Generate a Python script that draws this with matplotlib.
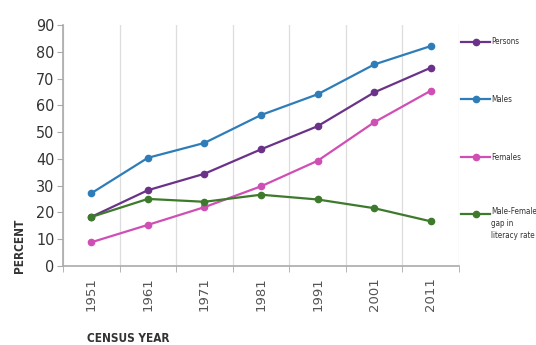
import matplotlib
matplotlib.use("Agg")
import matplotlib.pyplot as plt
import numpy as np

years = ["1951", "1961", "1971", "1981", "1991", "2001", "2011"]
persons = [18.33, 28.30, 34.45, 43.57, 52.21, 64.83, 74.04]
males = [27.16, 40.40, 45.96, 56.38, 64.13, 75.26, 82.14]
females = [8.86, 15.35, 21.97, 29.76, 39.29, 53.67, 65.46]
gap = [18.30, 25.05, 23.98, 26.62, 24.84, 21.59, 16.68]
series_names = ["Persons", "Males", "Females", "Male-Female\ngap in\nliteracy rate"]
yticks = list(range(0, 91, 10))

colors = ["#6b3289", "#2f7db8", "#d04fb4", "#3e7a2c"]

fig = plt.figure(figsize=(5.36, 3.45), dpi=100)
ax = fig.add_axes([0.1175, 0.229, 0.739, 0.6985])
x = np.arange(len(years))
handles = []
for vals, c, name in zip([persons, males, females, gap], colors, series_names):
    h, = ax.plot(x, vals, color=c, lw=1.6, marker="o", ms=4.5, label=name)
    handles.append(h)

ax.set_xlim(-0.5, len(years) - 0.5)
ax.set_ylim(0, 90)
ax.set_yticks(yticks)
ax.set_yticklabels([str(v) for v in yticks], fontstretch="condensed", fontsize=11.5, color="#333333")
ax.set_xticks(x)
ax.set_xticklabels(years, rotation=90, fontsize=9.5, color="#555555")
ax.set_xticks(np.arange(-0.5, len(years)), minor=True)
ax.tick_params(axis="x", which="major", length=0, pad=8)
ax.tick_params(axis="x", which="minor", length=4, color="#aaaaaa")
ax.tick_params(axis="y", length=4, color="#aaaaaa", pad=2)
ax.grid(axis="x", which="minor", color="#dddddd", lw=0.9)
for s in ["top", "right"]:
    ax.spines[s].set_visible(False)
for s in ["left", "bottom"]:
    ax.spines[s].set_color("#aaaaaa")
    ax.spines[s].set_linewidth(1.2)

fig.text(87 / 536, 1 - 338 / 345, "CENSUS YEAR", fontstretch="condensed", fontweight="bold",
         fontsize=8.5, color="#333333", va="center", ha="left")
fig.text(20 / 536, 1 - 246 / 345, "PERCENT", fontstretch="condensed", fontweight="bold",
         fontsize=8.5, color="#333333", va="center", ha="center", rotation=90)

leg_y = [42, 99, 157, 214]
for h, yy, name in zip(handles, leg_y, series_names):
    yf = 1 - yy / 345
    fig.add_artist(plt.Line2D([461 / 536, 490 / 536], [yf, yf], color=h.get_color(), lw=1.6,
                              transform=fig.transFigure))
    fig.add_artist(plt.Line2D([475.5 / 536], [yf], color=h.get_color(), marker="o", ms=4.5,
                              transform=fig.transFigure))
    if "\n" in name:
        fig.text(491 / 536, yf + 0.02, name, fontstretch="condensed", fontsize=5.8,
                 color="#333333", va="top", ha="left", linespacing=1.45)
    else:
        fig.text(491 / 536, yf, name, fontstretch="condensed", fontsize=5.8,
                 color="#333333", va="center", ha="left")

fig.savefig("out.png", dpi=100)
